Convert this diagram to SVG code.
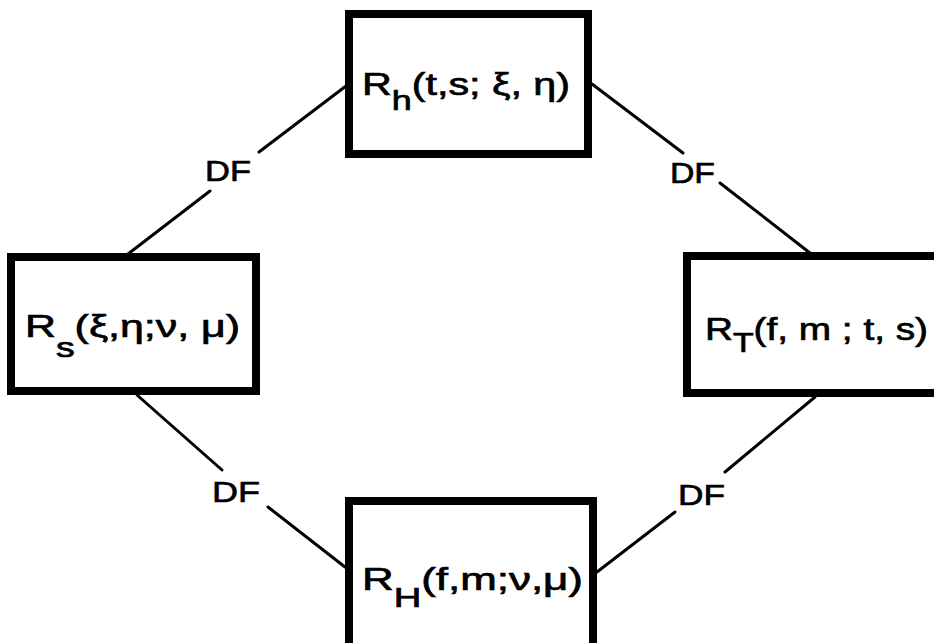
<svg xmlns="http://www.w3.org/2000/svg" width="934" height="643" viewBox="0 0 934 643">
<style>
.box{fill:#fff;stroke:#000;stroke-width:8}
.con{stroke:#000;stroke-width:3;fill:none;stroke-linecap:round}
.lbl{font-family:"Liberation Sans",Arial,sans-serif;font-size:31px;fill:#000;stroke:#000;stroke-width:0.7}
.df{font-family:"Liberation Sans",Arial,sans-serif;font-size:30px;fill:#000;stroke:#000;stroke-width:0.7}
.sub{font-size:27px}
</style>
<rect width="934" height="643" fill="#fff"/>
<g id="connectors">
<line class="con" x1="346" y1="86" x2="259" y2="152"/>
<line class="con" x1="210" y1="191" x2="128" y2="254"/>
<line class="con" x1="592" y1="84" x2="683" y2="153"/>
<line class="con" x1="720" y1="183" x2="810" y2="253"/>
<line class="con" x1="137" y1="395" x2="222" y2="470"/>
<line class="con" x1="268" y1="507" x2="345" y2="567"/>
<line class="con" x1="815" y1="397" x2="725" y2="472"/>
<line class="con" x1="675" y1="512" x2="597" y2="572"/>
<text class="df" x="205" y="181" textLength="46" lengthAdjust="spacingAndGlyphs">DF</text>
<text class="df" x="670" y="183" textLength="45" lengthAdjust="spacingAndGlyphs">DF</text>
<text class="df" x="212" y="502" textLength="48" lengthAdjust="spacingAndGlyphs">DF</text>
<text class="df" x="678" y="505" textLength="47" lengthAdjust="spacingAndGlyphs">DF</text>
</g>
<g id="node-Rh">
<rect class="box" x="349" y="14" width="239" height="140"/>
<text class="lbl" x="362" y="95" textLength="208" lengthAdjust="spacingAndGlyphs">R<tspan class="sub" dy="15">h</tspan><tspan dy="-15">(t,s; ξ, η)</tspan></text>
</g>
<g id="node-Rs">
<rect class="box" x="11" y="257" width="245" height="134"/>
<text class="lbl" x="25" y="337" textLength="215" lengthAdjust="spacingAndGlyphs">R<tspan class="sub" dy="20">s</tspan><tspan dy="-20">(ξ,η;ν, μ)</tspan></text>
</g>
<g id="node-RT">
<rect class="box" x="687" y="256" width="270" height="137"/>
<text class="lbl" x="705" y="340" textLength="223" lengthAdjust="spacingAndGlyphs">R<tspan class="sub" dy="12">T</tspan><tspan dy="-12">(f, m ; t, s)</tspan></text>
</g>
<g id="node-RH">
<rect class="box" x="349" y="501" width="244" height="160"/>
<text class="lbl" x="362" y="590" textLength="221" lengthAdjust="spacingAndGlyphs">R<tspan class="sub" dy="17">H</tspan><tspan dy="-17">(f,m;ν,μ)</tspan></text>
</g>
</svg>
